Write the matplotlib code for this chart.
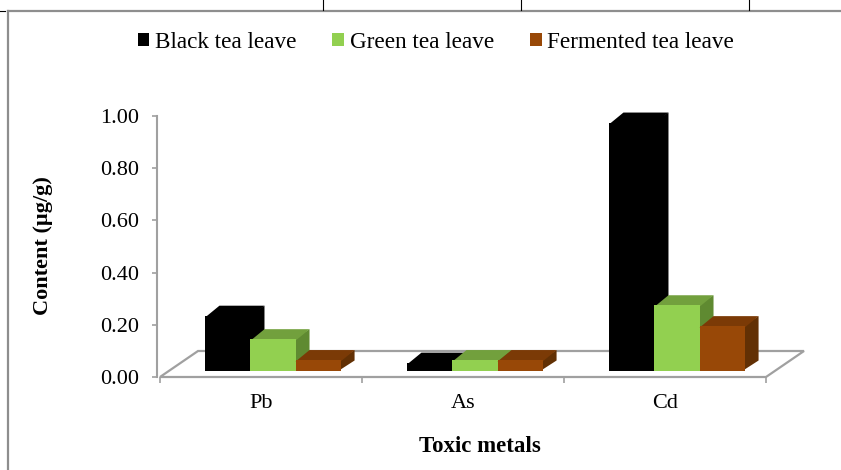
import matplotlib
matplotlib.use('Agg')
import matplotlib.pyplot as plt
from matplotlib.patches import Polygon, Patch
from matplotlib.lines import Line2D
from matplotlib.transforms import IdentityTransform
import numpy as np

# ---------------- data ----------------
categories = ['Pb', 'As', 'Cd']
series_names = ['Black tea leave', 'Green tea leave', 'Fermented tea leave']
black_tea = [0.21, 0.03, 0.95]
green_tea = [0.12, 0.04, 0.25]
fermented_tea = [0.04, 0.04, 0.17]
y_ticks = [0.0, 0.2, 0.4, 0.6, 0.8, 1.0]
y_tick_labels = ['0.00', '0.20', '0.40', '0.60', '0.80', '1.00']
x_title = 'Toxic metals'
y_title = 'Content (µg/g)'

# (front, top, side) colours per series
series_colors = [
    ('#000000', '#000000', '#000000'),
    ('#92D050', '#72A03D', '#5F8A31'),
    ('#984807', '#7B3A06', '#623004'),
]

plt.rcParams['font.family'] = ['Liberation Serif', 'DejaVu Serif']

W, H = 841, 470
fig = plt.figure(figsize=(W / 100, H / 100), dpi=100)
ax = fig.add_axes([160 / W, (H - 377) / H, 606 / W, 261 / H])
ax.set_xlim(-0.5, 2.5)
ax.set_ylim(0, 1)
ax.patch.set_visible(False)

GRAY = '#A0A0A0'
ident = IdentityTransform()

# floor (oblique)
floor_dx, floor_dy = 38, 26
fl = ax.transData.transform([(-0.5, 0), (2.5, 0)])
floor = Polygon([fl[0], fl[1], fl[1] + [floor_dx, floor_dy], fl[0] + [floor_dx, floor_dy]],
                closed=True, facecolor='white', edgecolor=GRAY, lw=1.6,
                transform=ident, zorder=1, clip_on=False)
ax.add_patch(floor)

# bars
bar_w = 0.223
front_dx, front_dy = 12, 6.5
top_dx, top_dy = 14, 10
all_series = [black_tea, green_tea, fermented_tea]
x = np.arange(len(categories))
z = 2
for ci in range(len(categories)):
    for si, vals in enumerate(all_series):
        fc, tc, sc = series_colors[si]
        xc = x[ci] + (si - 1) * bar_w
        x0, x1 = xc - bar_w / 2, xc + bar_w / 2
        p = ax.transData.transform([(x0, 0), (x1, 0), (x1, vals[ci]), (x0, vals[ci])])
        p = p + [front_dx, front_dy]
        d = np.array([top_dx, top_dy])
        # side and top faces slightly underlap the front face to avoid seams
        side = Polygon([p[1] - [1.5, 0], p[1] + d, p[2] + d, p[2] - [1.5, 0]], closed=True,
                       facecolor=sc, edgecolor='none', transform=ident, zorder=z,
                       clip_on=False)
        top = Polygon([p[3] - [0, 1.5], p[2] - [0, 1.5], p[2] + d, p[3] + d], closed=True,
                      facecolor=tc, edgecolor='none', transform=ident, zorder=z,
                      clip_on=False)
        front = Polygon(p, closed=True, facecolor=fc, edgecolor='none',
                        transform=ident, zorder=z, clip_on=False)
        ax.add_patch(side)
        ax.add_patch(top)
        ax.add_patch(front)
        z += 1

# axes styling
for s in ['top', 'right', 'bottom']:
    ax.spines[s].set_visible(False)
ax.spines['left'].set_color(GRAY)
ax.spines['left'].set_linewidth(1.5)
ax.spines['left'].set_position(('outward', 2.2))
ax.set_yticks(y_ticks)
ax.set_yticklabels(y_tick_labels)
ax.tick_params(axis='y', direction='out', length=3.6, width=1.2, color=GRAY,
               labelsize=16, pad=9)
ax.set_xticks(x)
ax.set_xticklabels(categories)
ax.set_xticks([-0.5, 0.5, 1.5, 2.5], minor=True)
ax.tick_params(axis='x', which='major', length=0, labelsize=16, pad=12)
ax.tick_params(axis='x', which='minor', direction='out', length=4, width=1.2, color=GRAY)

# titles
fig.text(480 / W, 1 - 447 / H, x_title, ha='center', va='center', fontsize=16.5,
         fontweight='bold')
fig.text(43 / W, 1 - 246 / H, y_title, ha='center', va='center', fontsize=16,
         fontweight='bold', rotation=90)

# legend
handles = [Patch(facecolor=c[0], edgecolor='none') for c in series_colors]
fig.legend(handles, series_names, loc='center', bbox_to_anchor=(436 / W, 1 - 42 / H),
           ncol=3, frameon=False, fontsize=16.7, handlelength=0.5, handleheight=0.5,
           handletextpad=0.25, columnspacing=1.55, borderpad=0)

# page frame lines
fig.add_artist(Line2D([8 / W, 1], [1 - 11 / H, 1 - 11 / H], color='#8E8E8E', lw=1.6,
                      transform=fig.transFigure))
fig.add_artist(Line2D([8 / W, 8 / W], [1 - 11 / H, 0], color='#8E8E8E', lw=1.6,
                      transform=fig.transFigure))
for xp in [323, 521, 749]:
    fig.add_artist(Line2D([xp / W, xp / W], [1, 1 - 10 / H], color='black', lw=0.8,
                          transform=fig.transFigure))
fig.add_artist(Line2D([0, 5 / W], [1 - 11 / H, 1 - 11 / H], color='black', lw=0.8,
                      transform=fig.transFigure))

fig.savefig('out.png', dpi=100)
